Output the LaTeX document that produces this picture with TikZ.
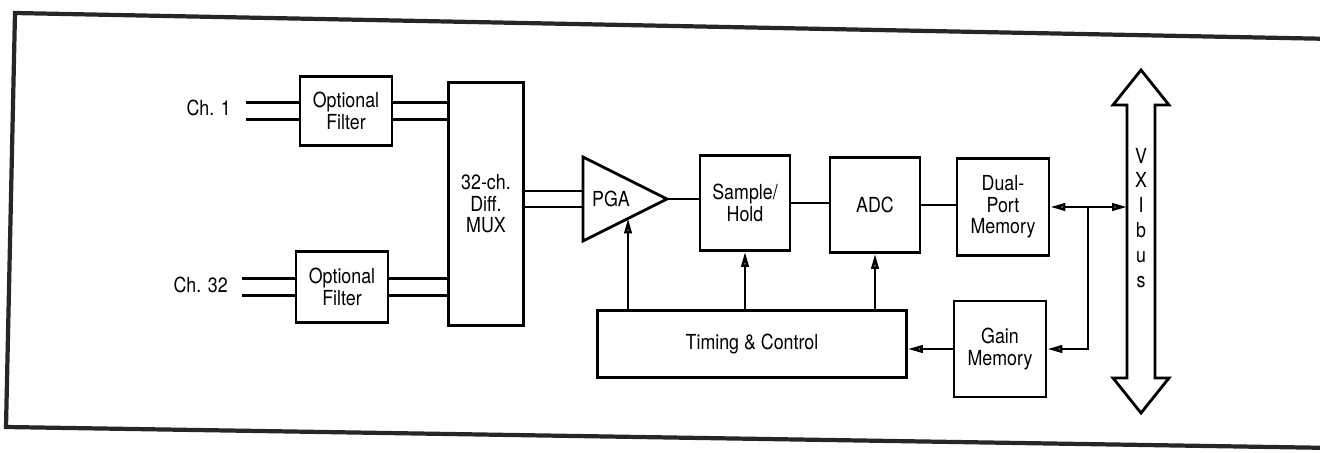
\documentclass[tikz,border=0pt]{standalone}
\usepackage{fontspec}
\setmainfont{TeX Gyre Heros}[FakeStretch=0.86]
\usetikzlibrary{arrows.meta,positioning,calc}

\begin{document}
\begin{tikzpicture}[x=0.02cm,y=-0.02cm,
    txt/.style={font=\fontsize{11.8}{12.3}\selectfont,align=center},
    blk/.style={txt,draw,line width=1.6pt,inner sep=0pt},
    wire/.style={line width=1.5pt},
    hd/.tip={Triangle[open,length=3mm,width=1.5mm]},
    sig/.style={wire,-hd}]
  \useasboundingbox (0,0) rectangle (1320,453);
  % frame (scan is a little skewed)
  \draw[line width=2.4pt,black!85] (1335,39) -- (15,13) -- (6,427) -- (1335,448);

  % filters and mux
  \node[blk,minimum width=1.84cm,minimum height=1.38cm] (f1) at (346,111) {Optional\\Filter};
  \node[blk,minimum width=1.84cm,minimum height=1.42cm] (f2) at (342,287) {Optional\\Filter};
  \node[txt,anchor=east] (ch1) at (237,108) {Ch. 1};
  \node[txt,anchor=east] (ch32) at (234,285) {Ch. 32};
  \node[blk,minimum width=1.5cm,minimum height=4.86cm] (mux) at (486,204) {32-ch.\\Diff.\\MUX};
  \foreach \f in {f1,f2}
    \foreach \d in {-8.5,8.5} {
      \draw[wire] ($(\f.west)+(0,\d)$) -- ++(-53,0);
      \draw[wire] ($(\f.east)+(0,\d)$) coordinate (p) -- (p -| mux.west);
    }

  % amplifier
  \coordinate (pgaT) at (583,157);
  \coordinate (pgaB) at (583,241);
  \coordinate (pgaO) at (667,199);
  \coordinate (pgaIn) at ($(pgaB)!0.536!(pgaO)$);
  \draw[line width=1.6pt,line join=miter] (pgaT) -- (pgaO) -- (pgaB) -- cycle;
  \node[txt] (pga) at (611,199) {PGA};
  \foreach \d in {-8,8}
    \draw[wire] ($(mux.east |- pgaO)+(0,\d)$) -- ($(pgaT |- pgaO)+(0,\d)$);

  % conversion chain
  \node[blk,minimum width=1.8cm,minimum height=1.9cm] (sh) at (745,203) {Sample/\\Hold};
  \node[blk,minimum width=1.8cm,minimum height=1.9cm] (adc) at (875,205) {ADC};
  \node[blk,minimum width=1.84cm,minimum height=1.94cm] (dp) at (1003,207) {Dual-\\Port\\Memory};
  \node[blk,minimum width=1.84cm,minimum height=1.92cm] (gm) at (1000,349) {Gain\\Memory};
  \node[blk,minimum width=6.18cm,minimum height=1.34cm] (tc) at (752,344) {Timing \& Control};
  \draw[wire] (pgaO) -- (pgaO -| sh.west);
  \draw[wire] (sh.east) -- (sh.east -| adc.west);
  \draw[wire] (adc.east) -- (adc.east -| dp.west);
  \draw[sig] (tc.north -| pgaIn) -- (pgaIn);
  \foreach \t in {sh,adc}
    \draw[sig] (tc.north -| \t.south) -- (\t.south);
  \draw[sig] (gm.west) -- (gm.west -| tc.east);

  % VXIbus
  \draw[line width=1.6pt] (1141,70) -- (1169,105) -- (1155,105) -- (1155,378) -- (1169,378)
    -- (1141,413) -- (1113,378) -- (1127,378) -- (1127,105) -- (1113,105) -- cycle;
  \node[font=\fontsize{11.8}{14.2}\selectfont,align=center] (bus) at (1141,218) {V\\X\\I\\b\\u\\s};
  \coordinate (busL) at (1127,207);
  \coordinate (jn) at (1088,207);
  \draw[wire,hd-hd] (dp.east) -- (dp.east -| busL);
  \draw[sig] (jn) |- (gm.east);
\end{tikzpicture}
\end{document}
